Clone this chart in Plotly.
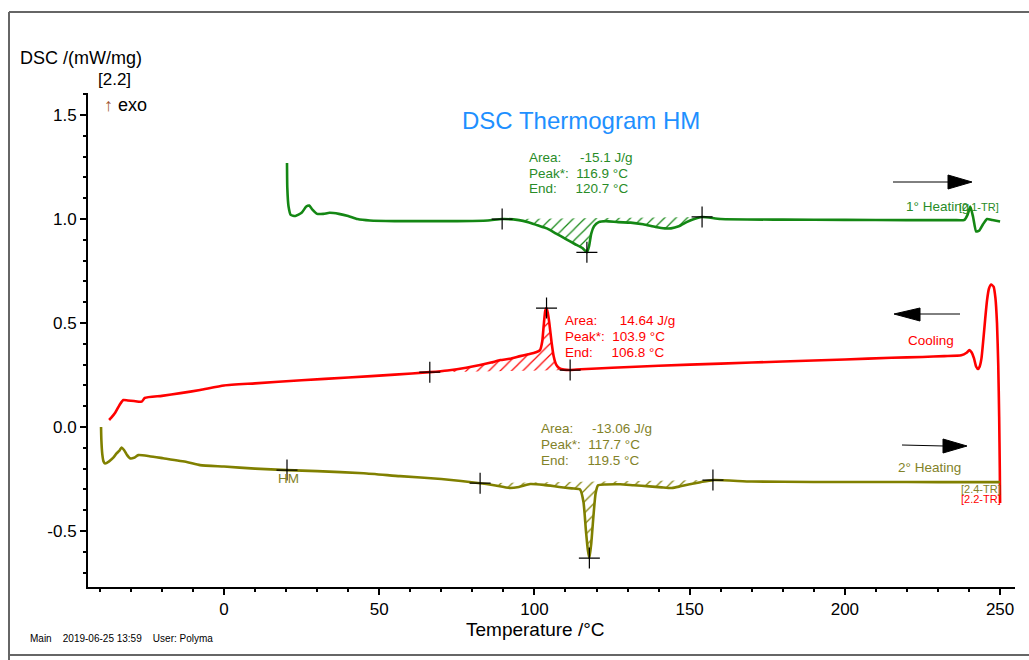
import plotly.graph_objects as go

# ---------------- data ----------------
heat1_T = [20.3, 20.4, 20.8, 21.5, 23, 25, 26.5, 27.5, 28.5, 30, 32, 34, 37, 40, 43, 47, 55, 65, 75, 85, 89.6,
           95, 98, 101, 104, 107, 110, 113, 115.5, 116.9, 117.6, 118.3, 119.2, 120.7, 123, 127, 131, 135,
           139, 142, 144, 146.5, 149, 151, 154, 160, 180, 200, 220, 235, 238.5, 239.5, 240.4, 241.3,
           242.3, 243.3, 244.5, 245.8, 247.5, 250]
heat1_V = [1.27, 1.15, 1.06, 1.02, 1.015, 1.03, 1.06, 1.065, 1.045, 1.025, 1.025, 1.03, 1.025, 1.015, 1.0,
           0.993, 0.99, 0.99, 0.99, 0.993, 1.0,
           0.995, 0.985, 0.97, 0.955, 0.93, 0.905, 0.88, 0.86, 0.84, 0.87, 0.93, 0.965, 0.985, 0.99, 0.985,
           0.983, 0.975, 0.962, 0.955, 0.955, 0.965, 0.985, 0.998, 1.01, 1.0, 0.997, 0.996, 0.995, 0.995,
           0.996, 1.02, 1.06, 1.01, 0.94, 0.945, 0.975, 1.0, 0.995, 0.988]

cool_T = [250.0, 249.9, 249.7, 249.4, 249.0, 248.5, 247.9, 247.1, 246.4, 245.8, 245.2, 244.6, 244.0,
          243.4, 242.9, 242.3, 241.6, 240.8, 240.1, 239.2, 237.5, 232, 225, 215, 200, 180, 160, 140, 125,
          115, 111.5, 109.5, 108, 107, 106.2, 105.5, 104.8, 104.3, 103.9, 103.5, 103.0, 102.5, 101.8, 100.5,
          98, 95.4, 92, 89, 86, 82.5, 78, 72, 66.3, 55, 40, 25, 10, 0, -7.7, -14, -20, -25.5, -26.5, -29,
          -31, -32.4, -33.5, -35, -36.3, -37]
cool_V = [-0.365, -0.2, 0.05, 0.3, 0.5, 0.62, 0.675, 0.685, 0.665, 0.61, 0.52, 0.42, 0.33,
          0.29, 0.279, 0.29, 0.33, 0.36, 0.37, 0.357, 0.345, 0.341, 0.337, 0.333, 0.325, 0.315, 0.305,
          0.295, 0.285, 0.278, 0.274, 0.276, 0.283, 0.3, 0.34, 0.41, 0.5, 0.55, 0.572, 0.56, 0.49, 0.41,
          0.37, 0.36, 0.35, 0.341, 0.328, 0.322, 0.31, 0.298, 0.285, 0.272, 0.264, 0.252, 0.238, 0.225,
          0.21, 0.2, 0.178, 0.163, 0.15, 0.14, 0.122, 0.125, 0.128, 0.13, 0.11, 0.07, 0.045, 0.034]

heat2_T = [-39.6, -39.5, -39.2, -38.8, -38.3, -37, -35.5, -34.6, -33.6, -33.0, -32.2, -31.2, -30.3, -29,
           -27.6, -24, -19.6, -12, -7.7, 0, 10, 20.3, 30, 45, 56.7, 70, 82.5, 87, 92, 95, 98.6, 103, 108,
           112, 114.7, 115.8, 116.6, 117.2, 117.7, 118.3, 119.0, 119.7, 120.5, 123, 127.6, 132, 137, 141,
           144.3, 147, 150, 153.5, 157.5, 170, 190, 210, 230, 250]
heat2_V = [0.0, -0.06, -0.13, -0.165, -0.175, -0.165, -0.145, -0.127, -0.112, -0.098, -0.11, -0.135,
           -0.15, -0.148, -0.135, -0.14, -0.15, -0.168, -0.183, -0.19, -0.2, -0.207, -0.212, -0.222,
           -0.236, -0.25, -0.27, -0.28, -0.293, -0.288, -0.274, -0.278, -0.288, -0.295, -0.3, -0.36,
           -0.5, -0.59, -0.63, -0.56, -0.43, -0.32, -0.28, -0.276, -0.275, -0.28, -0.285, -0.29, -0.293,
           -0.285, -0.275, -0.265, -0.255, -0.262, -0.264, -0.264, -0.265, -0.265]

# characteristic points (+ marks): [baseline start, peak, baseline end]
heat1_marks_T = [89.6, 116.9, 154]
heat1_marks_V = [1.0, 0.84, 1.01]
cool_marks_T = [66.3, 103.9, 111.5]
cool_marks_V = [0.264, 0.572, 0.274]
heat2_marks_T = [82.5, 117.7, 157.5]
heat2_marks_V = [-0.27, -0.63, -0.255]
hm_mark_T = [20.3]
hm_mark_V = [-0.207]

heat1_text = ["Area:     -15.1 J/g", "Peak*:  116.9 °C", "End:     120.7 °C"]
cool_text = ["Area:      14.64 J/g", "Peak*:  103.9 °C", "End:     106.8 °C"]
heat2_text = ["Area:     -13.06 J/g", "Peak*:  117.7 °C", "End:     119.5 °C"]

x_ticks = [0, 50, 100, 150, 200, 250]
y_ticks = [-0.5, 0.0, 0.5, 1.0, 1.5]
y_ticktext = ["-0.5", "0.0", "0.5", "1.0", "1.5"]

GREEN = "rgb(20,135,20)"
RED = "rgb(255,0,0)"
OLIVE = "rgb(128,128,0)"
GREEN_T = "rgb(40,140,40)"
OLIVE_T = "rgb(130,130,40)"
FONT = "Liberation Sans, Arial, sans-serif"

# plot area in pixels
L, R, T, B = 88, 1015, 93, 587
W, H = 1029, 660


def px(x):
    return (x - L) / (R - L)


def py(y):
    return (B - y) / (B - T)


def hatch(Ts, Vs, t0, v0, t1, v1):
    pts = sorted([(t, v) for t, v in zip(Ts, Vs) if t0 < t < t1])
    xs = [t0] + [p[0] for p in pts] + [t1, t0]
    ys = [v0] + [p[1] for p in pts] + [v1, v0]
    return xs, ys


fig = go.Figure()

for Ts, Vs, mT, mV, col in [
    (heat1_T, heat1_V, heat1_marks_T, heat1_marks_V, GREEN),
    (cool_T, cool_V, cool_marks_T, cool_marks_V, RED),
    (heat2_T, heat2_V, heat2_marks_T, heat2_marks_V, OLIVE),
]:
    hx, hy = hatch(Ts, Vs, mT[0], mV[0], mT[2], mV[2])
    fig.add_trace(go.Scatter(x=hx, y=hy, mode="lines", line=dict(width=0), fill="toself",
                             fillcolor="rgba(255,255,255,0)",
                             fillpattern=dict(shape="/", fgcolor=col, bgcolor="rgba(255,255,255,0)",
                                              fgopacity=1, size=8, solidity=0.15),
                             hoverinfo="skip", showlegend=False))

for Ts, Vs, col in [(heat1_T, heat1_V, GREEN), (cool_T, cool_V, RED), (heat2_T, heat2_V, OLIVE)]:
    fig.add_trace(go.Scatter(x=Ts, y=Vs, mode="lines", line=dict(color=col, width=2.6, shape="spline",
                                                                  smoothing=0.5),
                             showlegend=False))

fig.add_trace(go.Scatter(x=heat1_marks_T + cool_marks_T + heat2_marks_T + hm_mark_T,
                         y=heat1_marks_V + cool_marks_V + heat2_marks_V + hm_mark_V,
                         mode="markers",
                         marker=dict(symbol="cross-thin", size=15, line=dict(color="black", width=1.2)),
                         showlegend=False))

ann = []


def text(x, y, s, color="black", size=12, xanchor="left"):
    ann.append(dict(x=px(x), y=py(y), xref="paper", yref="paper", text=s, showarrow=False,
                    xanchor=xanchor, yanchor="middle", font=dict(family=FONT, size=size, color=color)))


text(18, 58, "DSC /(mW/mg)", size=18)
text(96, 80, "[2.2]", size=17)
text(102, 105, "<span style='color:#a0522d'>↑</span> exo", size=18)
text(581, 121, "DSC Thermogram HM", color="rgb(30,144,255)", size=24, xanchor="center")
for i, s in enumerate(heat1_text):
    text(527, 157 + 16 * i, s, color=GREEN_T, size=13.5)
for i, s in enumerate(cool_text):
    text(563, 320 + 16 * i, s, color=RED, size=13.5)
for i, s in enumerate(heat2_text):
    text(539, 428 + 16.5 * i, s, color=OLIVE_T, size=13.5)
text(904, 206, "1° Heating", color=GREEN_T, size=13.5)
text(957, 207, "[2.1-TR]", color=GREEN_T, size=11)
text(906, 340, "Cooling", color=RED, size=13.5)
text(896, 467, "2° Heating", color=OLIVE_T, size=13.5)
text(959, 489, "[2.4-TR]", color=OLIVE_T, size=11)
text(959, 499, "[2.2-TR]", color=RED, size=11)
text(276, 479, "HM", color=OLIVE_T, size=13.5)
text(535, 629, "Temperature /°C", size=19, xanchor="center")
text(28, 638, "Main&nbsp;&nbsp;&nbsp;&nbsp;2019-06-25 13:59&nbsp;&nbsp;&nbsp;&nbsp;User: Polyma", size=10)
text(12, 665, "Instrument :  NETZSCH DSC 214 Polyma DSC21400A-0055-L", size=12)
text(510, 665, "File : C:\\NETZSCH\\Polyma78\\data\\Irene Sartori\\SOFIA\\HM.ngb-sdx", size=12)

shapes = []


def line(x0, y0, x1, y1, color="black", width=1):
    shapes.append(dict(type="line", xref="paper", yref="paper", x0=px(x0), y0=py(y0), x1=px(x1),
                       y1=py(y1), line=dict(color=color, width=width)))


def tri(points):
    p = "M " + " L ".join(f"{px(a)},{py(b)}" for a, b in points) + " Z"
    shapes.append(dict(type="path", xref="paper", yref="paper", path=p, fillcolor="black",
                       line=dict(color="black", width=1)))


# outer frame
line(9, 12, 1029, 12, color="#666666", width=2)
line(9, 12, 9, 660, color="#666666", width=2)
line(9, 655, 1029, 655, color="#666666", width=2)
# direction arrows
line(893, 182, 950, 182)
tri([(948, 175), (972, 182), (948, 189)])
line(918, 314, 960, 314)
tri([(920, 308), (894, 314), (920, 321)])
line(902, 445, 944, 446)
tri([(943, 439), (967, 446), (943, 453)])

fig.update_layout(
    width=W, height=H, margin=dict(l=L, r=W - R, t=T, b=H - B),
    paper_bgcolor="white", plot_bgcolor="white",
    annotations=ann, shapes=shapes, showlegend=False,
    xaxis=dict(range=[-43.8, 254.8], tickvals=x_ticks, showline=True, linecolor="black", linewidth=2,
               ticks="outside", ticklen=6, tickwidth=1.5, tickcolor="black", showgrid=False,
               zeroline=False, tickfont=dict(family=FONT, size=17, color="black"),
               minor=dict(dtick=10, ticklen=3, tickcolor="black", ticks="outside")),
    yaxis=dict(range=[-0.769, 1.606], tickvals=y_ticks, ticktext=y_ticktext, showline=True,
               linecolor="black", linewidth=2, ticks="outside", ticklen=6, tickwidth=1.5,
               tickcolor="black", showgrid=False, zeroline=False,
               tickfont=dict(family=FONT, size=17, color="black"),
               minor=dict(dtick=0.1, ticklen=3, tickcolor="black", ticks="outside")),
)

fig.write_html("out.html")
